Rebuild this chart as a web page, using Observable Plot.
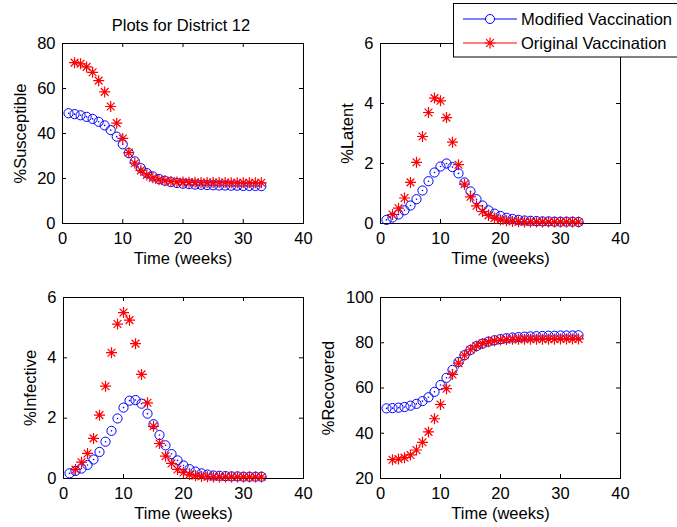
<!DOCTYPE html>
<html><head><meta charset="utf-8">
<script src="https://cdn.jsdelivr.net/npm/d3@7"></script>
<script src="https://cdn.jsdelivr.net/npm/@observablehq/plot@0.6"></script>
<style>
html,body{margin:0;padding:0;background:#fff;overflow:hidden;}
#root{position:relative;width:677px;height:527px;overflow:hidden;background:#fff;}
#root > svg{position:absolute;}
</style></head><body><div id="root"></div>
<script>
const weeksModified = [1,2,3,4,5,6,7,8,9,10,11,12,13,14,15,16,17,18,19,20,21,22,23,24,25,26,27,28,29,30,31,32,33];
const weeksOriginal = [2,3,4,5,6,7,8,9,10,11,12,13,14,15,16,17,18,19,20,21,22,23,24,25,26,27,28,29,30,31,32,33];

const susceptibleModified = [49.0,48.6,48.1,47.4,46.5,45.2,43.6,41.5,38.6,35.2,31.3,27.6,24.6,22.4,20.9,19.8,19.0,18.4,18.0,17.7,17.5,17.3,17.2,17.1,17.0,16.9,16.9,16.8,16.8,16.7,16.7,16.7,16.6];
const susceptibleOriginal = [71.5,71.0,69.6,67.2,63.5,58.5,52.0,44.6,37.8,31.5,26.8,23.6,21.6,20.3,19.5,19.0,18.7,18.5,18.4,18.3,18.3,18.2,18.2,18.2,18.2,18.2,18.1,18.1,18.1,18.1,18.1,18.1];

const latentModified = [0.12,0.20,0.30,0.44,0.60,0.81,1.10,1.41,1.70,1.90,2.00,1.88,1.67,1.37,1.07,0.81,0.60,0.44,0.33,0.25,0.19,0.15,0.12,0.10,0.09,0.08,0.07,0.07,0.06,0.06,0.06,0.06,0.05];
const latentOriginal = [0.30,0.51,0.85,1.37,2.04,2.90,3.70,4.18,4.09,3.53,2.71,1.96,1.31,0.89,0.59,0.40,0.27,0.18,0.12,0.09,0.07,0.06,0.05,0.05,0.05,0.05,0.05,0.05,0.05,0.05,0.05,0.05];

const infectiveModified = [0.17,0.25,0.33,0.45,0.63,0.88,1.22,1.58,1.99,2.35,2.58,2.60,2.48,2.15,1.80,1.44,1.10,0.81,0.60,0.43,0.31,0.23,0.17,0.13,0.10,0.09,0.08,0.07,0.07,0.06,0.06,0.06,0.06];
const infectiveOriginal = [0.30,0.54,0.83,1.33,2.10,3.06,4.17,5.12,5.50,5.25,4.47,3.45,2.51,1.73,1.16,0.74,0.50,0.30,0.20,0.13,0.09,0.07,0.06,0.05,0.05,0.05,0.05,0.05,0.05,0.05,0.05,0.05];

const recoveredModified = [51.0,51.1,51.3,51.6,52.2,53.0,54.2,55.9,58.3,61.3,64.5,68.0,71.5,74.5,76.8,78.5,79.6,80.5,81.1,81.6,82.0,82.3,82.5,82.7,82.8,82.9,83.0,83.1,83.1,83.2,83.2,83.2,83.3];
const recoveredOriginal = [28.3,28.6,29.2,30.4,32.6,36.0,40.6,46.4,52.7,59.7,66.0,71.0,74.5,76.9,78.6,79.7,80.4,80.9,81.2,81.4,81.5,81.5,81.6,81.6,81.6,81.6,81.6,81.6,81.7,81.7,81.7,81.7];

const xTicks = [0,10,20,30,40];
const yTicksSusceptible = [0,20,40,60,80];
const yTicksLatent = [0,2,4,6];
const yTicksInfective = [0,2,4,6];
const yTicksRecovered = [20,40,60,80,100];

const seriesNames = ["Modified Vaccination","Original Vaccination"];
const chartTitle = "Plots for District 12";
const xLabel = "Time (weeks)";

const FONT = '"Liberation Sans", Arial, Helvetica, sans-serif';
const FS = 16.5;
const BLUE = "#0000ff", RED = "#ff0000";

const star8 = {
  draw(ctx, size) {
    const r = Math.sqrt(size / Math.PI);
    const d = r * Math.SQRT1_2;
    ctx.moveTo(-r, 0); ctx.lineTo(r, 0);
    ctx.moveTo(0, -r); ctx.lineTo(0, r);
    ctx.moveTo(-d, -d); ctx.lineTo(d, d);
    ctx.moveTo(-d, d); ctx.lineTo(d, -d);
  }
};

const panels = [
  {label:"%Susceptible", domain:[0,80], ticks:yTicksSusceptible, mod:susceptibleModified, orig:susceptibleOriginal, left:0, top:0, pw:241, ph:180, off:42, title:chartTitle},
  {label:"%Latent", domain:[0,6], ticks:yTicksLatent, mod:latentModified, orig:latentOriginal, left:318, top:0, pw:240, ph:180, off:33},
  {label:"%Infective", domain:[0,6], ticks:yTicksInfective, mod:infectiveModified, orig:infectiveOriginal, left:1, top:254, pw:240, ph:181, off:33},
  {label:"%Recovered", domain:[20,100], ticks:yTicksRecovered, mod:recoveredModified, orig:recoveredOriginal, left:318, top:254, pw:240, ph:181, off:52}
];

const root = document.getElementById("root");
const fmt = d => String(d);

for (const p of panels) {
  const ml = 62, mt = 43, mr = 35, mb = 40;
  const modData = weeksModified.map((t, i) => ({t, v: p.mod[i]}));
  const origData = weeksOriginal.map((t, i) => ({t, v: p.orig[i]}));
  const marks = [
    Plot.frame({stroke: "#000", strokeWidth: 1}),
    Plot.tickX(xTicks, {x: d => d, insetTop: p.ph - 4, stroke: "#000"}),
    Plot.tickX(xTicks, {x: d => d, insetBottom: p.ph - 4, stroke: "#000"}),
    Plot.tickY(p.ticks, {y: d => d, insetRight: p.pw - 4, stroke: "#000"}),
    Plot.tickY(p.ticks, {y: d => d, insetLeft: p.pw - 4, stroke: "#000"}),
    Plot.axisX({ticks: xTicks, tickFormat: fmt, tickSize: 0, tickPadding: 9, label: null, fontSize: FS}),
    Plot.axisY({ticks: p.ticks, tickFormat: fmt, tickSize: 0, tickPadding: 7, label: null, fontSize: FS}),
    Plot.dot(modData, {x: "t", y: "v", r: 4.6, stroke: BLUE, strokeWidth: 1, fill: "none"}),
    Plot.dot(modData, {x: "t", y: "v", r: 0.8, fill: BLUE, stroke: "none"}),
    Plot.dot(origData, {x: "t", y: "v", r: 5.5, symbol: star8, stroke: RED, strokeWidth: 1.2}),
    Plot.text([xLabel], {text: d => d, frameAnchor: "bottom", dy: 29, lineAnchor: "top", fontSize: FS}),
    Plot.text([p.label], {text: d => d, frameAnchor: "left", dx: -p.off, rotate: -90, textAnchor: "middle", lineAnchor: "middle", fontSize: FS})
  ];
  if (p.title) marks.push(Plot.text([p.title], {text: d => d, frameAnchor: "top", dy: -13, dx: -2, lineAnchor: "bottom", fontSize: FS}));
  const svg = Plot.plot({
    width: ml + p.pw + mr,
    height: mt + p.ph + mb,
    marginLeft: ml, marginTop: mt, marginRight: mr, marginBottom: mb,
    x: {domain: [0, 40]},
    y: {domain: p.domain},
    style: {fontFamily: FONT, fontSize: FS + "px", color: "#000", background: "transparent", overflow: "visible"},
    marks
  });
  svg.style.left = p.left + "px";
  svg.style.top = p.top + "px";
  root.appendChild(svg);
}

// legend
const leg = d3.create("svg").attr("width", 677).attr("height", 62)
  .style("left", "0px").style("top", "0px").style("font-family", FONT).style("font-size", FS + "px");
leg.append("rect").attr("x", 453.5).attr("y", 3.5).attr("width", 240).attr("height", 53.5)
  .attr("fill", "#fff").attr("stroke", "#000").attr("stroke-width", 1);
const rows = [{y: 19, c: BLUE, name: seriesNames[0], m: "o"}, {y: 43, c: RED, name: seriesNames[1], m: "*"}];
for (const r of rows) {
  leg.append("line").attr("x1", 463).attr("x2", 517).attr("y1", r.y).attr("y2", r.y).attr("stroke", r.c).attr("stroke-width", 1);
  if (r.m === "o") {
    leg.append("circle").attr("cx", 490).attr("cy", r.y).attr("r", 4.5).attr("fill", "#fff").attr("stroke", r.c);
  } else {
    leg.append("path").attr("transform", `translate(490,${r.y})`).attr("d", d3.symbol(star8, Math.PI * 5.5 * 5.5)()).attr("stroke", r.c).attr("fill", "none").attr("stroke-width", 1.2);
  }
  leg.append("text").attr("x", 521).attr("y", r.y + 6).attr("fill", "#000").text(r.name);
}
root.appendChild(leg.node());
</script></body></html>
